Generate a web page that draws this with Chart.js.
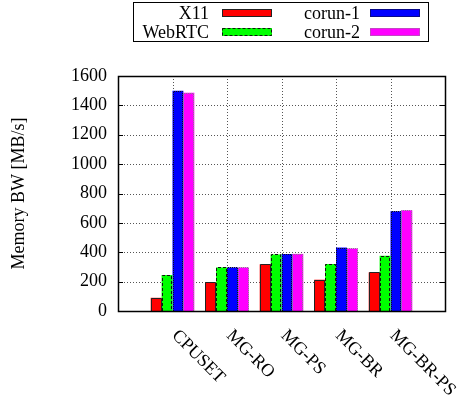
<!DOCTYPE html>
<html>
<head>
<meta charset="utf-8">
<script src="https://cdn.jsdelivr.net/npm/chart.js@4/dist/chart.umd.min.js"></script>
<style>
  html, body { margin: 0; padding: 0; background: #fff; }
  #wrap { width: 458px; height: 401px; position: relative; }
</style>
</head>
<body>
<div id="wrap"><canvas id="c" width="458" height="401"></canvas></div>
<script>
// Workloads on the x axis
const categories = ['CPUSET', 'MG-RO', 'MG-PS', 'MG-BR', 'MG-BR-PS'];
// Series names
const seriesNames = ['X11', 'WebRTC', 'corun-1', 'corun-2'];
// Memory bandwidth per workload, MB/s
const x11     = [90, 195, 318, 213, 263];
const webrtc  = [245, 297, 385, 320, 376];
const corun1  = [1500, 297, 388, 432, 680];
const corun2  = [1486, 297, 389, 426, 686];
// Y axis tick values
const yTicks = [0, 200, 400, 600, 800, 1000, 1200, 1400, 1600];

const FONT = '"Liberation Serif", "Times New Roman", serif';
const FS = 18;
const fills   = ['#ff0000', '#00ff00', '#0000ff', '#ff00ff'];
const strokes = ['#222222', '#111111', '#111111', '#888888'];
const dashes  = [[], [3, 2], [1, 1], [1, 1]];

// Empty slots at both ends give the gap before the first and after the last group
const labels = [''].concat(categories, ['']);
const pad = arr => [null].concat(arr, [null]);
const values = [x11, webrtc, corun1, corun2];

const datasets = values.map((v, i) => ({
  label: seriesNames[i],
  data: pad(v),
  backgroundColor: fills[i],
  borderWidth: 0,
  categoryPercentage: 0.8,
  barPercentage: 1.0
}));

const framePlugin = {
  id: 'frame',
  beforeDatasetsDraw(chart) {
    const { ctx, chartArea: a, scales } = chart;
    ctx.save();
    ctx.strokeStyle = '#555';
    ctx.lineWidth = 1;
    ctx.setLineDash([1, 2]);
    // horizontal grid
    yTicks.forEach(t => {
      if (t === 0 || t === 1600) return;
      const y = Math.round(scales.y.getPixelForValue(t)) + 0.5;
      ctx.beginPath(); ctx.moveTo(a.left, y); ctx.lineTo(a.right, y); ctx.stroke();
    });
    // vertical grid at each workload
    categories.forEach((c, i) => {
      const x = Math.round(scales.x.getPixelForValue(i + 1)) + 0.5;
      ctx.beginPath(); ctx.moveTo(x, a.top); ctx.lineTo(x, a.bottom); ctx.stroke();
    });
    ctx.restore();
  },
  afterDatasetsDraw(chart) {
    const { ctx, chartArea: a, scales } = chart;
    ctx.save();
    // bar outlines
    chart.data.datasets.forEach((ds, di) => {
      const meta = chart.getDatasetMeta(di);
      ctx.strokeStyle = strokes[di];
      ctx.lineWidth = 1;
      ctx.setLineDash(dashes[di]);
      meta.data.forEach((bar, j) => {
        if (ds.data[j] == null) return;
        const p = bar.getProps(['x', 'y', 'base', 'width'], true);
        const l = Math.round(p.x - p.width / 2) + 0.5;
        const r = Math.round(p.x + p.width / 2) - 0.5;
        const t = Math.round(p.y) + 0.5;
        const b = Math.round(p.base);
        ctx.beginPath();
        ctx.moveTo(l, b); ctx.lineTo(l, t); ctx.lineTo(r, t); ctx.lineTo(r, b);
        ctx.stroke();
      });
    });
    ctx.setLineDash([]);
    // tick marks on left and right borders
    ctx.strokeStyle = '#000';
    yTicks.forEach(t => {
      const y = Math.round(scales.y.getPixelForValue(t)) + 0.5;
      ctx.beginPath();
      ctx.moveTo(a.left, y); ctx.lineTo(a.left + 5, y);
      ctx.moveTo(a.right, y); ctx.lineTo(a.right - 5, y);
      ctx.stroke();
    });
    // plot border
    ctx.lineWidth = 1.5;
    ctx.strokeRect(Math.round(a.left) + 0.5, Math.round(a.top) + 0.5,
                   Math.round(a.right - a.left), Math.round(a.bottom - a.top));
    // rotated workload labels
    ctx.fillStyle = '#000';
    ctx.font = FS + 'px ' + FONT;
    ctx.textAlign = 'left';
    ctx.textBaseline = 'middle';
    categories.forEach((c, i) => {
      const x = scales.x.getPixelForValue(i + 1) + 2;
      ctx.save();
      ctx.translate(x, a.bottom + 22);
      ctx.rotate(Math.PI / 4);
      ctx.fillText(c, 0, 0);
      ctx.restore();
    });
    // key box
    ctx.lineWidth = 1;
    ctx.strokeRect(133.5, 2.5, 295, 39);
    const cols = [{ textRight: 209, sx: 222 }, { textRight: 360, sx: 370 }];
    const rows = [13, 32];
    seriesNames.forEach((n, i) => {
      const col = cols[Math.floor(i / 2)];
      const y = rows[i % 2];
      ctx.textAlign = 'right';
      ctx.fillStyle = '#000';
      ctx.fillText(n, col.textRight, y + 1);
      ctx.fillStyle = fills[i];
      ctx.fillRect(col.sx, y - 4, 50, 8);
      ctx.strokeStyle = strokes[i];
      ctx.setLineDash(dashes[i]);
      ctx.strokeRect(col.sx + 0.5, y - 4 + 0.5, 49, 7);
      ctx.setLineDash([]);
    });
    ctx.restore();
  }
};

new Chart(document.getElementById('c'), {
  type: 'bar',
  data: { labels, datasets },
  options: {
    responsive: false,
    animation: false,
    events: [],
    layout: { padding: { top: 76, right: 13, bottom: 90, left: 0 } },
    plugins: { legend: { display: false }, tooltip: { enabled: false } },
    scales: {
      x: {
        offset: false,
        grid: { display: false, drawTicks: false },
        border: { display: false },
        ticks: { display: false },
        afterFit(s) { s.height = 0; }
      },
      y: {
        min: 0, max: 1600,
        afterBuildTicks(s) { s.ticks = yTicks.map(v => ({ value: v })); },
        grid: { display: false, drawTicks: false },
        border: { display: false },
        ticks: {
          padding: 11,
          color: '#000',
          font: { family: FONT, size: FS },
          callback: v => String(v)
        },
        title: {
          display: true,
          text: 'Memory BW [MB/s]',
          color: '#000',
          font: { family: FONT, size: FS },
          padding: { top: 8, bottom: 0 }
        },
        afterFit(s) { s.width = 118; }
      }
    }
  },
  plugins: [framePlugin]
});
</script>
</body>
</html>
